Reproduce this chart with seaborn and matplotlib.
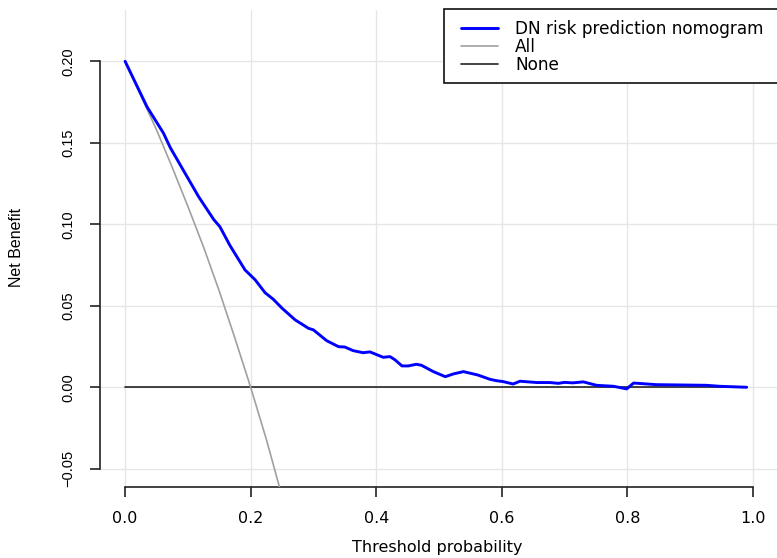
import matplotlib
matplotlib.use("Agg")
from matplotlib import pyplot as plt
from matplotlib.patches import Rectangle
import seaborn as sns
import pandas as pd

# values
threshold = [0.00, 0.035, 0.048, 0.061, 0.072, 0.096, 0.117, 0.141, 0.151, 0.167,
             0.183, 0.191, 0.207, 0.223, 0.236, 0.250, 0.271, 0.292, 0.300, 0.321,
             0.340, 0.350, 0.363, 0.379, 0.390, 0.411, 0.422, 0.430, 0.441, 0.451,
             0.464, 0.472, 0.491, 0.510, 0.523, 0.539, 0.562, 0.581, 0.592, 0.602,
             0.618, 0.629, 0.656, 0.677, 0.690, 0.700, 0.713, 0.730, 0.751, 0.778,
             0.799, 0.810, 0.846, 0.926, 0.947, 0.990]
nomogram_nb = [0.200, 0.172, 0.164, 0.156, 0.147, 0.131, 0.117, 0.103, 0.0985, 0.087,
               0.077, 0.072, 0.066, 0.058, 0.054, 0.0485, 0.0413, 0.0362, 0.0352, 0.0286,
               0.0249, 0.0247, 0.0225, 0.0212, 0.0217, 0.0184, 0.0188, 0.0168, 0.0131, 0.0131,
               0.0141, 0.0135, 0.0096, 0.0065, 0.0082, 0.0096, 0.0075, 0.0049, 0.0040, 0.0035,
               0.0020, 0.0037, 0.0029, 0.0029, 0.0024, 0.0030, 0.0027, 0.0033, 0.0012, 0.0006,
               -0.0010, 0.0026, 0.0016, 0.0012, 0.0006, 0.0000]

all_threshold = [0.0, 0.025, 0.05, 0.075, 0.1, 0.125, 0.15, 0.175, 0.2, 0.225, 0.25]
all_nb = [0.200, 0.179, 0.158, 0.135, 0.111, 0.086, 0.059, 0.030, 0.000, -0.032, -0.067]

none_threshold = [0.0, 0.99]
none_nb = [0.0, 0.0]

x_ticks = [0.0, 0.2, 0.4, 0.6, 0.8, 1.0]
y_ticks = [-0.05, 0.00, 0.05, 0.10, 0.15, 0.20]

nomo_df = pd.DataFrame({"threshold": threshold, "nb": nomogram_nb})
all_df = pd.DataFrame({"threshold": all_threshold, "nb": all_nb})
none_df = pd.DataFrame({"threshold": none_threshold, "nb": none_nb})

sns.set_style("white")
plt.rcParams['font.family'] = ['DejaVu Sans']
plt.rcParams['text.color'] = 'black'
plt.rcParams['xtick.color'] = 'black'
plt.rcParams['ytick.color'] = 'black'

fig = plt.figure(figsize=(7.77, 5.58), dpi=100)
ax = fig.add_axes([100 / 777, 71 / 558, 678 / 777, 477 / 558])

# grid first so the curves sit on top
for xv in x_ticks:
    ax.axvline(xv, color="#e6e6e6", lw=1.0, zorder=0)
for yv in y_ticks:
    ax.axhline(yv, color="#e6e6e6", lw=1.0, zorder=0)

sns.lineplot(data=nomo_df, x="threshold", y="nb", color="#0000ff", lw=2.1,
             sort=False, ax=ax, label="DN risk prediction nomogram", zorder=4)
sns.lineplot(data=all_df, x="threshold", y="nb", color="#a0a0a0", lw=1.2,
             sort=False, ax=ax, label="All", zorder=3)
sns.lineplot(data=none_df, x="threshold", y="nb", color="#222222", lw=1.2,
             sort=False, ax=ax, label="None", zorder=2)

ax.set_xlim(-0.04, 1.04)
ax.set_ylim(-0.0612, 0.2315)
ax.set_xticks(x_ticks)
ax.set_xticklabels(["0.0", "0.2", "0.4", "0.6", "0.8", "1.0"], fontsize=11.5)
ax.set_yticks(y_ticks)
ax.set_yticklabels(["\u22120.05", "0.00", "0.05", "0.10", "0.15", "0.20"],
                   rotation=90, va="center", fontsize=10.5, family="Liberation Sans")
ax.set_xlabel("")
ax.set_ylabel("")

# R-like axes: only left and bottom, running between the end ticks
for side in ["top", "right"]:
    ax.spines[side].set_visible(False)
ax.spines["left"].set_bounds(-0.05, 0.20)
ax.spines["bottom"].set_bounds(0.0, 1.0)
for side in ["left", "bottom"]:
    ax.spines[side].set_color("#222222")
    ax.spines[side].set_linewidth(1.2)
ax.tick_params(axis="both", direction="out", length=7, width=1.2, color="#222222",
               left=True, bottom=True)
ax.tick_params(axis="x", pad=10)
ax.tick_params(axis="y", pad=11)

fig.text(17 / 777, 1 - 247 / 558, "Net Benefit", rotation=90, ha="center", va="center",
         fontsize=11.5, family="Liberation Sans")
fig.text(437 / 777, 1 - 540 / 558, "Threshold probability", ha="center", va="top",
         fontsize=11.5)

# legend box like R's: runs off the right edge, wider side padding than top/bottom
handles, labels = ax.get_legend_handles_labels()
ax.get_legend().remove()
fig.patches.append(Rectangle((444 / 777, 1 - 83 / 558), 360 / 777, 74 / 558,
                             transform=fig.transFigure, facecolor="white",
                             edgecolor="#111111", lw=1.2, zorder=2))
fig.legend(handles, labels, loc="upper left", bbox_to_anchor=(461 / 777, 1 - 20 / 558),
           bbox_transform=fig.transFigure, borderaxespad=0, borderpad=0, fontsize=12.2,
           frameon=False, handlelength=2.2, handletextpad=1.0, labelspacing=0.0)

fig.savefig("out.png", dpi=100)
